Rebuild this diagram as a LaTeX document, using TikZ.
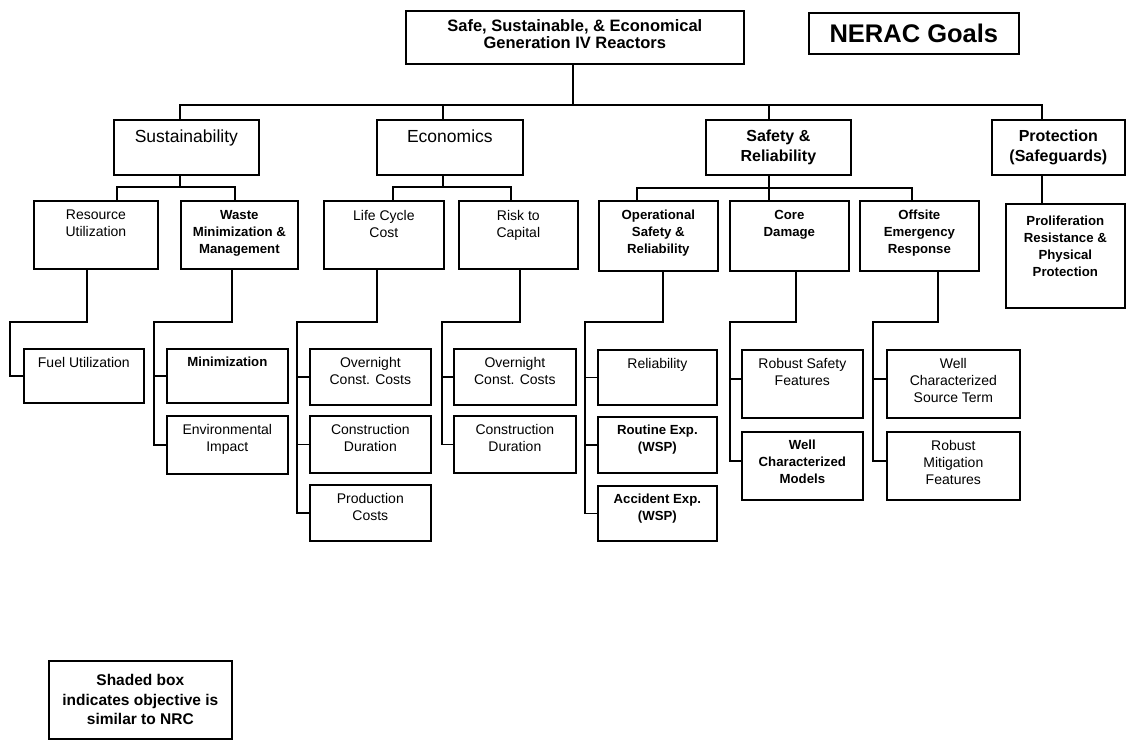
\documentclass[tikz,border=0pt]{standalone}
\usepackage{fontspec}
\setmainfont{Liberation Sans}
% a framed goal box with its text set at the top
\newcommand\goalbox[8]{%
  \node[frame, minimum width=#4pt, minimum height=#5pt, anchor=north west] (#1) at (#2,#3) {};
  \node[#6, anchor=north] (#1-t) at ([yshift=-#7pt]#1.north) {#8};}
\begin{document}
\begin{tikzpicture}[x=1pt,y=-1pt,
  frame/.style={draw=black, line width=1.7pt, rectangle, inner sep=0pt},
  wire/.style={draw=black, line width=1.3pt},
  t14/.style={inner sep=0pt, align=center, font=\fontsize{14}{17}\selectfont},
  t14b/.style={inner sep=0pt, align=center, font=\bfseries\fontsize{13.2}{17}\selectfont},
  t17/.style={inner sep=0pt, align=center, font=\fontsize{17.5}{20}\selectfont},
  t17b/.style={inner sep=0pt, align=center, font=\bfseries\fontsize{16}{20}\selectfont},
  ttop/.style={inner sep=0pt, align=center, font=\bfseries\fontsize{16.5}{17}\selectfont},
]
\fill[white] (0,0) rectangle (1126,740);
\useasboundingbox (0,0) rectangle (1126,740);

% root and title
\goalbox{top}{405}{10}{338}{53}{ttop}{9}{Safe, Sustainable, \& Economical\\Generation IV Reactors}
\node[frame, minimum width=210pt, minimum height=41pt, anchor=north west,
      font=\bfseries\fontsize{25.5}{28}\selectfont] (nerac) at (808,12) {NERAC Goals};

% first level
\goalbox{sus}{113}{119}{145}{55}{t17}{11}{Sustainability}
\goalbox{eco}{376}{119}{146}{55}{t17}{11}{Economics}
\goalbox{saf}{705}{119}{145}{55}{t17b}{11}{Safety \&\\Reliability}
\goalbox{pro}{991}{119}{133}{55}{t17b}{11}{Protection\\(Safeguards)}

% second level
\goalbox{res}{33}{200}{124}{68}{t14}{10}{Resource\\Utilization}
\goalbox{was}{180}{200}{117}{68}{t14b}{10}{Waste\\Minimization \&\\Management}
\goalbox{lcc}{323}{200}{120}{68}{t14}{10}{Life Cycle\\Cost}
\goalbox{rtc}{458}{200}{119}{68}{t14}{10}{Risk to\\Capital}
\goalbox{osr}{598}{200}{119}{70}{t14b}{10}{Operational\\Safety \&\\Reliability}
\goalbox{cdm}{729}{200}{119}{70}{t14b}{10}{Core\\Damage}
\goalbox{off}{859}{200}{119}{70}{t14b}{10}{Offsite\\Emergency\\Response}
\goalbox{ppp}{1005}{203}{119}{104}{t14b}{13}{Proliferation\\Resistance \&\\Physical\\Protection}

% third level
\goalbox{fuel}{23}{348}{120}{54}{t14}{9}{Fuel Utilization}
\goalbox{min}{166}{348}{121}{54}{t14b}{9}{Minimization}
\goalbox{env}{166}{415}{121}{58}{t14}{9}{Environmental\\Impact}
\goalbox{onca}{309}{348}{121}{56}{t14}{9}{Overnight\\Const. Costs}
\goalbox{cdua}{309}{415}{121}{57}{t14}{9}{Construction\\Duration}
\goalbox{prc}{309}{484}{121}{56}{t14}{9}{Production\\Costs}
\goalbox{oncb}{453}{348}{122}{56}{t14}{9}{Overnight\\Const. Costs}
\goalbox{cdub}{453}{415}{122}{57}{t14}{9}{Construction\\Duration}
\goalbox{rel}{597}{349}{119}{55}{t14}{9}{Reliability}
\goalbox{rte}{597}{416}{119}{56}{t14b}{9}{Routine Exp.\\(WSP)}
\goalbox{ace}{597}{485}{119}{55}{t14b}{9}{Accident Exp.\\(WSP)}
\goalbox{rsf}{741}{349}{121}{68}{t14}{9}{Robust Safety\\Features}
\goalbox{wcm}{741}{431}{121}{68}{t14b}{9}{Well\\Characterized\\Models}
\goalbox{wcs}{886}{349}{133}{68}{t14}{9}{Well\\Characterized\\Source Term}
\goalbox{rmf}{886}{431}{133}{68}{t14}{9}{Robust\\Mitigation\\Features}

% legend
\node[frame, minimum width=183pt, minimum height=78pt, anchor=north west, align=center,
      font=\bfseries\fontsize{15.5}{19.5}\selectfont] (key) at (48,660)
      {Shaded box\\indicates objective is\\similar to NRC};

% root bus
\draw[wire] (top.south -| 573,0) -- (573,105);
\draw[wire] (sus.north -| 180,0) -- (180,105) -- (1042,105) -- (pro.north -| 1042,0);
\draw[wire] (eco.north -| 443,0) -- (443,105);
\draw[wire] (saf.north -| 769,0) -- (769,105);

% first level to second level
\draw[wire] (sus.south -| 180,0) -- (180,187);
\draw[wire] (res.north -| 117,0) -- (117,187) -- (235,187) -- (was.north -| 235,0);
\draw[wire] (eco.south -| 443,0) -- (443,187);
\draw[wire] (lcc.north -| 393,0) -- (393,187) -- (511,187) -- (rtc.north -| 511,0);
\draw[wire] (saf.south -| 769,0) -- (cdm.north -| 769,0);
\draw[wire] (osr.north -| 637,0) -- (637,188) -- (912,188) -- (off.north -| 912,0);
\draw[wire] (pro.south -| 1042,0) -- (ppp.north -| 1042,0);

% second level to third level
\draw[wire] (res.south -| 87,0) -- (87,322) -- (10,322) |- (fuel.west);
\draw[wire] (was.south -| 232,0) -- (232,322) -- (154,322) |- (env.west);
\draw[wire] (min.west) -- (min.west -| 154,0);
\draw[wire] (lcc.south -| 377,0) -- (377,322) -- (297,322) |- (prc.west);
\draw[wire] (onca.west) -- (onca.west -| 297,0);
\draw[wire] (cdua.west) -- (cdua.west -| 297,0);
\draw[wire] (rtc.south -| 520,0) -- (520,322) -- (442,322) |- (cdub.west);
\draw[wire] (oncb.west) -- (oncb.west -| 442,0);
\draw[wire] (osr.south -| 663,0) -- (663,322) -- (585,322) |- (ace.west);
\draw[wire] (rel.west) -- (rel.west -| 585,0);
\draw[wire] (rte.west) -- (rte.west -| 585,0);
\draw[wire] (cdm.south -| 796,0) -- (796,322) -- (730,322) |- ([yshift=5pt]wcm.west);
\draw[wire] ([yshift=5pt]rsf.west) -- ([yshift=5pt]rsf.west -| 730,0);
\draw[wire] (off.south -| 938,0) -- (938,322) -- (873,322) |- ([yshift=5pt]rmf.west);
\draw[wire] ([yshift=5pt]wcs.west) -- ([yshift=5pt]wcs.west -| 873,0);
\end{tikzpicture}
\end{document}
